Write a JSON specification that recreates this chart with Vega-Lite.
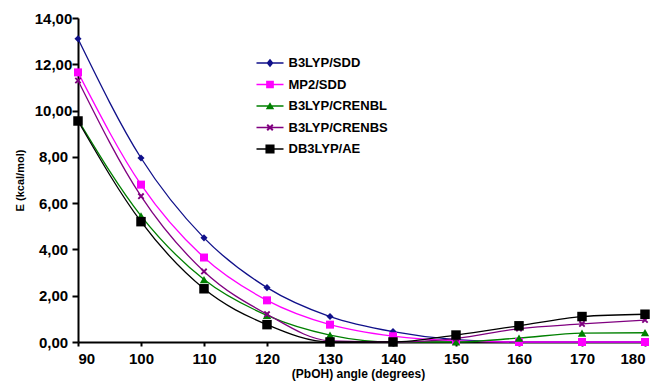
{
  "$schema": "https://vega.github.io/schema/vega-lite/v6.json",
  "width": 567,
  "height": 324,
  "autosize": {"type": "none"},
  "padding": {"left": 78, "top": 18, "right": 10, "bottom": 50},
  "background": "white",
  "config": {
    "view": {"stroke": null},
    "font": "Liberation Sans",
    "axis": {"grid": false, "domainColor": "black", "domainWidth": 2, "tickColor": "black", "tickWidth": 2, "tickSize": 6, "labelFont": "Liberation Sans", "labelFontWeight": "bold", "labelColor": "black", "titleFont": "Liberation Sans", "titleFontWeight": "bold", "titleColor": "black"},
    "legend": {"title": null, "orient": "none", "legendX": 185, "legendY": 38, "labelFontSize": 13, "labelFontWeight": "bold", "labelColor": "black", "rowPadding": 7.5, "symbolSize": 196, "labelOffset": 11.5, "symbolOpacity": 1, "symbolStrokeWidth": 0}
  },
  "data": {
    "values": [
      {"angle": 90, "method": "B3LYP/SDD", "E": 13.1},
      {"angle": 100, "method": "B3LYP/SDD", "E": 7.95},
      {"angle": 110, "method": "B3LYP/SDD", "E": 4.5},
      {"angle": 120, "method": "B3LYP/SDD", "E": 2.35},
      {"angle": 130, "method": "B3LYP/SDD", "E": 1.1},
      {"angle": 140, "method": "B3LYP/SDD", "E": 0.45},
      {"angle": 150, "method": "B3LYP/SDD", "E": 0.1},
      {"angle": 160, "method": "B3LYP/SDD", "E": 0.0},
      {"angle": 170, "method": "B3LYP/SDD", "E": 0.0},
      {"angle": 180, "method": "B3LYP/SDD", "E": 0.0},
      {"angle": 90, "method": "MP2/SDD", "E": 11.65},
      {"angle": 100, "method": "MP2/SDD", "E": 6.8},
      {"angle": 110, "method": "MP2/SDD", "E": 3.65},
      {"angle": 120, "method": "MP2/SDD", "E": 1.8},
      {"angle": 130, "method": "MP2/SDD", "E": 0.75},
      {"angle": 140, "method": "MP2/SDD", "E": 0.25},
      {"angle": 150, "method": "MP2/SDD", "E": 0.05},
      {"angle": 160, "method": "MP2/SDD", "E": 0.0},
      {"angle": 170, "method": "MP2/SDD", "E": 0.0},
      {"angle": 180, "method": "MP2/SDD", "E": 0.0},
      {"angle": 90, "method": "B3LYP/CRENBL", "E": 9.6},
      {"angle": 100, "method": "B3LYP/CRENBL", "E": 5.45},
      {"angle": 110, "method": "B3LYP/CRENBL", "E": 2.7},
      {"angle": 120, "method": "B3LYP/CRENBL", "E": 1.15},
      {"angle": 130, "method": "B3LYP/CRENBL", "E": 0.3},
      {"angle": 140, "method": "B3LYP/CRENBL", "E": 0.0},
      {"angle": 150, "method": "B3LYP/CRENBL", "E": 0.0},
      {"angle": 160, "method": "B3LYP/CRENBL", "E": 0.17},
      {"angle": 170, "method": "B3LYP/CRENBL", "E": 0.38},
      {"angle": 180, "method": "B3LYP/CRENBL", "E": 0.4},
      {"angle": 90, "method": "B3LYP/CRENBS", "E": 11.3},
      {"angle": 100, "method": "B3LYP/CRENBS", "E": 6.3},
      {"angle": 110, "method": "B3LYP/CRENBS", "E": 3.05},
      {"angle": 120, "method": "B3LYP/CRENBS", "E": 1.2},
      {"angle": 130, "method": "B3LYP/CRENBS", "E": 0.05},
      {"angle": 140, "method": "B3LYP/CRENBS", "E": 0.0},
      {"angle": 150, "method": "B3LYP/CRENBS", "E": 0.15},
      {"angle": 160, "method": "B3LYP/CRENBS", "E": 0.58},
      {"angle": 170, "method": "B3LYP/CRENBS", "E": 0.78},
      {"angle": 180, "method": "B3LYP/CRENBS", "E": 0.95},
      {"angle": 90, "method": "DB3LYP/AE", "E": 9.55},
      {"angle": 100, "method": "DB3LYP/AE", "E": 5.2},
      {"angle": 110, "method": "DB3LYP/AE", "E": 2.3},
      {"angle": 120, "method": "DB3LYP/AE", "E": 0.75},
      {"angle": 130, "method": "DB3LYP/AE", "E": 0.0},
      {"angle": 140, "method": "DB3LYP/AE", "E": 0.0},
      {"angle": 150, "method": "DB3LYP/AE", "E": 0.3},
      {"angle": 160, "method": "DB3LYP/AE", "E": 0.7},
      {"angle": 170, "method": "DB3LYP/AE", "E": 1.1},
      {"angle": 180, "method": "DB3LYP/AE", "E": 1.2}
    ]
  },
  "encoding": {
    "x": {"field": "angle", "type": "quantitative", "scale": {"domain": [90, 180], "nice": false}, "axis": {"values": [90, 100, 110, 120, 130, 140, 150, 160, 170, 180], "tickSize": 4, "labelFontSize": 15, "labelPadding": 5, "title": "(PbOH) angle (degrees)", "titleFontSize": 12, "titlePadding": 2, "titleX": 280}},
    "y": {"field": "E", "type": "quantitative", "scale": {"domain": [0, 14], "nice": false}, "axis": {"values": [0, 2, 4, 6, 8, 10, 12, 14], "labelExpr": "replace(format(datum.value, '.2f'), '.', ',')", "labelFontSize": 15, "labelAlign": "center", "labelPadding": 19, "title": "E (kcal/mol)", "titleFontSize": 11, "titlePadding": 9}},
    "color": {"field": "method", "type": "nominal", "scale": {"domain": ["B3LYP/SDD", "MP2/SDD", "B3LYP/CRENBL", "B3LYP/CRENBS", "DB3LYP/AE"], "range": ["#10108a", "#ff00ff", "#008000", "#800080", "#000000"]}, "legend": {}}
  },
  "layer": [
    {"mark": {"type": "line", "interpolate": "monotone", "strokeWidth": 1.3}},
    {"transform": [{"filter": "datum.method === 'B3LYP/SDD'"}], "mark": {"type": "point", "filled": true, "opacity": 1, "shape": "diamond", "size": 50}},
    {"transform": [{"filter": "datum.method === 'MP2/SDD'"}], "mark": {"type": "point", "filled": true, "opacity": 1, "shape": "square", "size": 64}},
    {"transform": [{"filter": "datum.method === 'B3LYP/CRENBL'"}], "mark": {"type": "point", "filled": true, "opacity": 1, "shape": "triangle-up", "size": 70}},
    {"transform": [{"filter": "datum.method === 'B3LYP/CRENBS'"}], "mark": {"type": "point", "filled": true, "opacity": 1, "shape": "M-0.6,-1L1,0.6L0.6,1L-1,-0.6Z M0.6,-1L1,-0.6L-0.6,1L-1,0.6Z", "size": 45}},
    {"transform": [{"filter": "datum.method === 'DB3LYP/AE'"}], "mark": {"type": "point", "filled": true, "opacity": 1, "shape": "square", "size": 90}},
    {"transform": [{"filter": "datum.E < -100"}], "mark": {"type": "point", "filled": true, "opacity": 1}, "encoding": {
      "shape": {"field": "method", "type": "nominal", "scale": {"domain": ["B3LYP/SDD", "MP2/SDD", "B3LYP/CRENBL", "B3LYP/CRENBS", "DB3LYP/AE"], "range": [
        "M-1.93,-0.09L1.93,-0.09L1.93,0.09L-1.93,0.09Z M0,-0.6L0.5,0L0,0.6L-0.5,0Z",
        "M-1.93,-0.09L1.93,-0.09L1.93,0.09L-1.93,0.09Z M-0.55,-0.55L0.55,-0.55L0.55,0.55L-0.55,0.55Z",
        "M-1.93,-0.09L1.93,-0.09L1.93,0.09L-1.93,0.09Z M0,-0.55L0.6,0.45L-0.6,0.45Z",
        "M-1.93,-0.09L1.93,-0.09L1.93,0.09L-1.93,0.09Z M-0.3,-0.5L0.5,0.3L0.3,0.5L-0.5,-0.3Z M0.3,-0.5L0.5,-0.3L-0.3,0.5L-0.5,0.3Z",
        "M-1.93,-0.09L1.93,-0.09L1.93,0.09L-1.93,0.09Z M-0.65,-0.65L0.65,-0.65L0.65,0.65L-0.65,0.65Z"]}, "legend": {}}
    }}
  ]
}
